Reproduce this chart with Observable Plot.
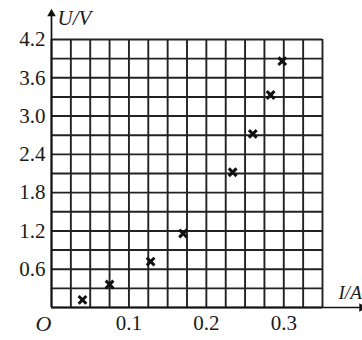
<!DOCTYPE html>
<html>
<head>
<meta charset="utf-8">
<script src="https://cdn.jsdelivr.net/npm/d3@7"></script>
<script src="https://cdn.jsdelivr.net/npm/@observablehq/plot@0.6"></script>
<style>
  html, body { margin: 0; padding: 0; background: #fff; }
  #chart svg { display: block; }
</style>
</head>
<body>
<div id="chart"></div>
<script>
// Measured data (I in A, U in V)
const currents = [0.04, 0.075, 0.128, 0.17, 0.234, 0.26, 0.283, 0.298];
const voltages = [0.12, 0.36, 0.72, 1.16, 2.12, 2.72, 3.33, 3.86];

// Grid and ticks
const xGrid = d3.range(0, 15).map(i => +(i * 0.025).toFixed(3));
const yGrid = d3.range(0, 15).map(i => +(i * 0.3).toFixed(2));
const xTicks = [0.1, 0.2, 0.3];
const yTicks = [0.6, 1.2, 1.8, 2.4, 3.0, 3.6, 4.2];
const xDomain = [0, 0.35];
const yDomain = [0, 4.2];
const xAxisEnd = 0.402;
const yAxisEnd = 4.62;

const points = currents.map((I, i) => ({I, U: voltages[i]}));

const font = "'Liberation Serif', 'Times New Roman', serif";

const chart = Plot.plot({
  width: 362,
  height: 340,
  marginLeft: 51,
  marginRight: 40,
  marginTop: 39,
  marginBottom: 33,
  style: {fontFamily: font, fontSize: "21px", color: "#1a1a1a", background: "#fff"},
  x: {domain: xDomain},
  y: {domain: yDomain},
  marks: [
    Plot.ruleX(xGrid, {y1: yDomain[0], y2: yDomain[1], stroke: "#222", strokeWidth: 1.9}),
    Plot.ruleY(yGrid, {x1: xDomain[0], x2: xDomain[1], stroke: "#222", strokeWidth: 1.9}),
    // axes with arrows
    Plot.ruleX([0], {y1: 0, y2: yAxisEnd, stroke: "#111", strokeWidth: 1.7}),
    Plot.ruleY([0], {x1: 0, x2: xAxisEnd, stroke: "#111", strokeWidth: 1.7}),
    Plot.dot([{x: 0, y: yAxisEnd}], {x: "x", y: "y", symbol: "triangle", r: 3.2, fill: "#111", stroke: "none", dy: 1}),
    Plot.dot([{x: xAxisEnd, y: 0}], {x: "x", y: "y", symbol: "triangle", r: 3.2, fill: "#111", stroke: "none", rotate: 90, dx: -1}),
    Plot.axisX(xTicks, {tickSize: 0, tickPadding: 8, fontSize: 21, fontFamily: font, tickFormat: d => d.toFixed(1)}),
    Plot.axisY(yTicks, {tickSize: 0, tickPadding: 6, fontSize: 21, fontFamily: font, tickFormat: d => d.toFixed(1)}),
    Plot.text(["O"], {x: 0, y: 0, dx: -8, dy: 16, fontStyle: "italic", fontSize: 22, fontFamily: font, textAnchor: "middle", fill: "#1a1a1a"}),
    Plot.text(["U/V"], {x: 0, y: yAxisEnd, dx: 6, dy: 6, fontStyle: "italic", fontSize: 21, fontFamily: font, textAnchor: "start", fill: "#1a1a1a"}),
    Plot.text(["I/A"], {x: xAxisEnd, y: 0, dx: -1, dy: -15, fontStyle: "italic", fontSize: 19, fontFamily: font, textAnchor: "end", fill: "#1a1a1a"}),
    Plot.dot(points, {x: "I", y: "U", symbol: "times", r: 3.6, stroke: "#111", strokeWidth: 3})
  ]
});
document.getElementById("chart").append(chart);
</script>
</body>
</html>
